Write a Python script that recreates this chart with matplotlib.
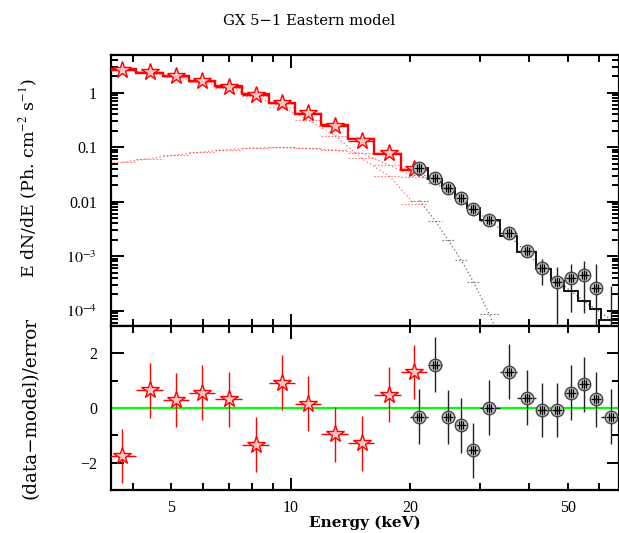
import numpy as np
import matplotlib
matplotlib.use("Agg")
import matplotlib.pyplot as plt
from matplotlib.path import Path
from matplotlib.ticker import FixedLocator, FuncFormatter, NullFormatter

plt.rcParams['font.family'] = ['DejaVu Serif']
plt.rcParams['mathtext.fontset'] = 'stix'
plt.rcParams['font.size'] = 11

# ---- red data set (low energy instrument) ----
red_E = [3.76, 4.41, 5.14, 5.98, 6.97, 8.16, 9.49, 11.06, 12.95, 15.1, 17.74, 20.48]
red_edges = [3.50, 4.07, 4.77, 5.53, 6.46, 7.53, 8.81, 10.23, 11.96, 13.94, 16.20, 18.99, 22.09]
red_flux = [2.61, 2.37, 2.02, 1.66, 1.29, 0.908, 0.656, 0.419, 0.245, 0.130, 0.0773, 0.0393]
red_err = [0.06, 0.05, 0.04, 0.035, 0.03, 0.025, 0.02, 0.015, 0.01, 0.007, 0.004, 0.002]
red_model = [2.72, 2.33, 2.0, 1.63, 1.31, 0.95, 0.645, 0.415, 0.252, 0.14, 0.0765, 0.0382]
red_soft = [2.667, 2.268, 1.928, 1.548, 1.22, 0.853, 0.546, 0.32, 0.164, 0.0624, 0.0295, 0.0092]
red_hard = [0.053, 0.062, 0.072, 0.082, 0.090, 0.097, 0.099, 0.095, 0.088, 0.0776, 0.047, 0.029]
red_resid = [-1.76, 0.65, 0.29, 0.56, 0.32, -1.34, 0.93, 0.16, -0.96, -1.29, 0.49, 1.32]

# ---- black data set (high energy instrument) ----
blk_E = [21.13, 23.15, 24.93, 26.94, 28.89, 31.71, 35.64, 39.42, 43.19, 47.14, 50.94, 54.95, 58.84, 64.5]
blk_edges = [20.05, 22.27, 24.07, 25.91, 27.85, 29.97, 33.68, 37.27, 41.72, 45.45, 48.92, 53.06, 56.91, 60.57, 68.46]
blk_flux = [0.041, 0.0275, 0.0176, 0.01155, 0.00725, 0.00461, 0.00263, 0.00126, 6.0e-4, 3.41e-4, 4.03e-4, 4.52e-4, 2.58e-4, 4.0e-5]
blk_err = [0.0012, 0.0008, 0.0007, 0.0006, 0.00045, 0.00037, 0.00026, 0.00019, 3.0e-4, 2.85e-4, 3.1e-4, 3.6e-4, 4.5e-4, 2.44e-4]
blk_model = [0.0415, 0.0265, 0.0178, 0.0116, 0.0076, 0.0046, 0.00235, 0.00118, 5.9e-4, 3.55e-4, 2.3e-4, 1.5e-4, 1.07e-4, 6.8e-5]
blk_soft = [0.0105, 0.0045, 0.0020, 8.5e-4, 3.4e-4, 8.7e-5, 1.3e-5]
blk_hard = [0.031, 0.022, 0.0158, 0.0108, 0.0073, 0.0045, 0.00234, 0.00118, 5.9e-4, 3.55e-4, 2.3e-4, 1.5e-4, 1.07e-4, 6.8e-5]
blk_resid = [-0.32, 1.58, -0.33, -0.63, -1.55, 0.01, 1.33, 0.38, -0.07, -0.07, 0.56, 0.87, 0.32, -0.32]

title = "GX 5\u22121 Eastern model"
ylabel_top = r"E dN/dE (Ph. cm$^{-2}$ s$^{-1}$)"
ylabel_bot = "(data\u2212model)/error"
xlabel = "Energy (keV)"
x_major = [10]
x_minor = [4, 5, 6, 7, 8, 9, 20, 30, 40, 50, 60]
x_labelled = [5, 10, 20, 50]

TICKFAMILY = 'Liberation Serif'
TICKSIZE = 11.5

W, H = 619, 533
fig = plt.figure(figsize=(W / 100, H / 100), dpi=100)
L, R = 111, 618.5
ax1 = fig.add_axes([L / W, 1 - 326 / H, (R - L) / W, (326 - 55) / H])
ax2 = fig.add_axes([L / W, 1 - 490 / H, (R - L) / W, (490 - 326) / H], sharex=ax1)

def edges_to_err(E, edges):
    E = np.asarray(E); ed = np.asarray(edges)
    return np.vstack([E - ed[:-1], ed[1:] - E])

red_xerr = edges_to_err(red_E, red_edges)
blk_xerr = edges_to_err(blk_E, blk_edges)

verts = [(-0.5, -0.85), (-0.5, 0.85), (0, -1), (0, 1), (0.5, -0.85), (0.5, 0.85), (-1, 0), (1, 0)]
codes = [Path.MOVETO, Path.LINETO] * 4
hatch = Path(verts, codes)

# ----- top panel -----
rc = 'red'
for comp, E, ed, col in [(red_soft, red_E, red_edges, rc), (red_hard, red_E, red_edges, rc),
                         (blk_soft, blk_E[:len(blk_soft)], blk_edges[:len(blk_soft) + 1], 'black'),
                         (blk_hard, blk_E, blk_edges, 'black')]:
    ax1.plot(E, comp, ls=(0, (1, 2)), color=col, lw=0.9, alpha=0.6)
    ax1.hlines(comp, ed[:-1], ed[1:], color=col, ls=(0, (1.5, 1.5)), lw=0.8, alpha=0.5)

ax1.stairs(red_model, red_edges, baseline=None, color=rc, lw=1.7, zorder=3)
ax1.stairs(blk_model, blk_edges, baseline=None, color='black', lw=1.3, zorder=3)

re = np.asarray(red_err)
ax1.errorbar(red_E, red_flux, yerr=re, xerr=red_xerr, fmt='none', ecolor=rc, elinewidth=1.0, zorder=4)
ax1.plot(red_E, red_flux, ls='none', marker='*', ms=13, mfc='#ffc4c4', mec=rc, mew=1.0, zorder=5)

bf = np.asarray(blk_flux); be = np.asarray(blk_err)
blo = np.minimum(be, bf - 1e-7)
ax1.errorbar(blk_E, blk_flux, yerr=[blo, be], xerr=blk_xerr, fmt='none', ecolor='#222222', elinewidth=1.0, zorder=4)
ax1.plot(blk_E, blk_flux, ls='none', marker='o', ms=9, mfc='#c8c8c8', mec='#444444', mew=1.0, zorder=5)
ax1.plot(blk_E, blk_flux, ls='none', marker=hatch, ms=7, mfc='none', mec='black', mew=0.9, zorder=6)

ax1.set_xscale('log')
ax1.set_yscale('log')
ax1.set_xlim(3.52, 67.2)
ax1.set_ylim(5.24e-5, 4.92)

def yfmt(v, p):
    m = {1: '1', 0.1: '0.1', 0.01: '0.01'}
    for k, s in m.items():
        if abs(v - k) / k < 1e-6:
            return s
    e = int(round(np.log10(v)))
    return r'$10^{%d}$' % e

ax1.yaxis.set_major_locator(FixedLocator([1e-4, 1e-3, 1e-2, 1e-1, 1]))
ax1.yaxis.set_major_formatter(FuncFormatter(yfmt))
ax1.yaxis.set_minor_locator(FixedLocator([m * 10.0 ** e for e in range(-5, 1) for m in range(2, 10)]))
ax1.yaxis.set_minor_formatter(NullFormatter())

# ----- bottom panel -----
ax2.axhline(0, color='#00ff00', lw=1.6, zorder=2)
ax2.errorbar(red_E, red_resid, yerr=1, xerr=red_xerr, fmt='none', ecolor=rc, elinewidth=1.0, zorder=4)
ax2.plot(red_E, red_resid, ls='none', marker='*', ms=13, mfc='#ffc4c4', mec=rc, mew=1.0, zorder=5)
ax2.errorbar(blk_E, blk_resid, yerr=1, xerr=blk_xerr, fmt='none', ecolor='#222222', elinewidth=1.0, zorder=4)
ax2.plot(blk_E, blk_resid, ls='none', marker='o', ms=9, mfc='#c8c8c8', mec='#444444', mew=1.0, zorder=5)
ax2.plot(blk_E, blk_resid, ls='none', marker=hatch, ms=7, mfc='none', mec='black', mew=0.9, zorder=6)
ax2.set_ylim(-3, 3)
ax2.yaxis.set_major_locator(FixedLocator([-2, 0, 2]))
ax2.yaxis.set_minor_locator(FixedLocator([-3, -1, 1, 3]))
ax2.yaxis.set_major_formatter(FuncFormatter(lambda v, p: ('%d' % v).replace('-', '\u2212')))

def xfmt(v, p):
    for k in x_labelled:
        if abs(v - k) < 1e-6:
            return '%d' % k
    return ''

for ax in (ax1, ax2):
    ax.xaxis.set_major_locator(FixedLocator(x_major))
    ax.xaxis.set_minor_locator(FixedLocator(x_minor))
    ax.tick_params(which='both', direction='in', top=True, right=True, width=1.4, labelsize=TICKSIZE)
    ax.tick_params(which='major', length=9)
    ax.tick_params(which='minor', length=5)
    ax.tick_params(axis='y', which='both', pad=10)
    for s in ax.spines.values():
        s.set_linewidth(1.6)

ax2.xaxis.set_major_formatter(FuncFormatter(xfmt))
ax2.xaxis.set_minor_formatter(FuncFormatter(xfmt))
ax2.tick_params(axis='x', which='both', pad=7)
ax1.tick_params(axis='x', which='both', labelbottom=False)

fig.canvas.draw()
for ax in (ax1, ax2):
    for lab in ax.get_xticklabels(which='both') + ax.get_yticklabels(which='both'):
        lab.set_fontfamily(TICKFAMILY)

ax1.set_ylabel(ylabel_top, fontsize=12.5)
ax1.yaxis.set_label_coords(-0.14, 0.546)
ax2.set_ylabel(ylabel_bot, fontsize=13.2)
ax2.yaxis.set_label_coords(-0.14, 0.5)
ax2.set_xlabel(xlabel, fontweight='bold')
ax2.xaxis.set_label_coords(0.5, -0.155)

fig.text(0.5, 1 - 21 / H, title, ha='center', va='center', fontsize=10.6)

fig.savefig('out.png', dpi=100)
